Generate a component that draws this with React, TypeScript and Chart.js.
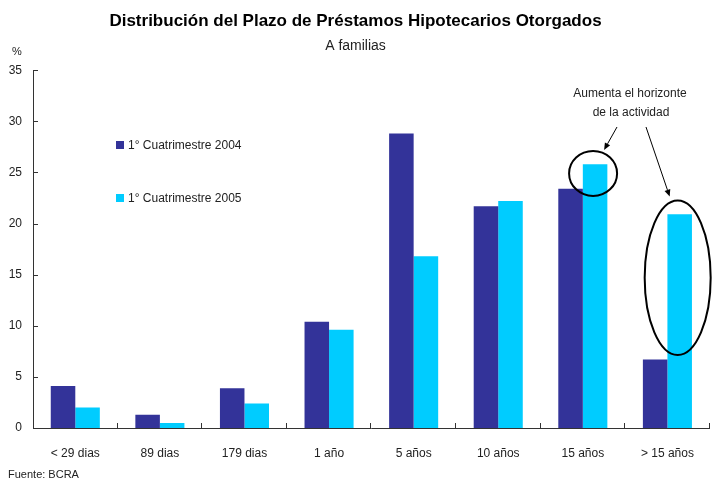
import React, { useEffect, useRef } from "react";
import { Chart, registerables } from "chart.js";

Chart.register(...registerables);

const categories = ["< 29 dias", "89 dias", "179 dias", "1 año", "5 años", "10 años", "15 años", "> 15 años"];
const series2004 = [4.1, 1.3, 3.9, 10.4, 28.8, 21.7, 23.4, 6.7];
const series2005 = [2.0, 0.5, 2.4, 9.6, 16.8, 22.2, 25.8, 20.9];
const seriesLabels = ["1° Cuatrimestre 2004", "1° Cuatrimestre 2005"];
const yTicks = [0, 5, 10, 15, 20, 25, 30, 35];
const titleText = "Distribución del Plazo de Préstamos Hipotecarios Otorgados";
const subtitleText = "A familias";
const unitText = "%";
const sourceText = "Fuente: BCRA";
const noteLines = ["Aumenta el horizonte", "de la actividad"];
// ellipse annotations: [category index, center value, half-height in value units]
const highlightIndex = [6, 7];
const highlightCenter = [24.9, 14.7];
const highlightHalf = [2.2, 7.55];

const FONT = "'Liberation Sans', Arial, sans-serif";
const COLORS = ["#333399", "#00CCFF"];
const AXIS = "#333333";
const TEXT = "#222222";

const overlay = {
  id: "overlay",
  afterDraw(chart: any) {
    const ctx = chart.ctx as CanvasRenderingContext2D;
    const y = chart.scales.y;
    const area = chart.chartArea;
    ctx.save();
    // inward tick marks
    ctx.strokeStyle = AXIS;
    ctx.lineWidth = 1;
    ctx.beginPath();
    yTicks.forEach((v) => {
      const py = Math.round(y.getPixelForValue(v)) + 0.5;
      ctx.moveTo(area.left, py);
      ctx.lineTo(area.left + 5, py);
    });
    const n = categories.length;
    for (let i = 1; i <= n; i++) {
      const px = Math.round(area.left + ((area.right - area.left) * i) / n) - 0.5;
      ctx.moveTo(px, area.bottom);
      ctx.lineTo(px, area.bottom - 5);
    }
    ctx.stroke();

    // unit
    ctx.fillStyle = TEXT;
    ctx.font = `11px ${FONT}`;
    ctx.textAlign = "center";
    ctx.textBaseline = "middle";
    ctx.fillText(unitText, 17, 52);

    // legend
    ctx.font = `12px ${FONT}`;
    ctx.textAlign = "left";
    const legendY = [145, 198];
    seriesLabels.forEach((lab, i) => {
      ctx.fillStyle = COLORS[i];
      ctx.fillRect(116, legendY[i] - 4, 8, 8);
      ctx.fillStyle = TEXT;
      ctx.fillText(lab, 128, legendY[i] + 0.5);
    });

    // note text
    ctx.textAlign = "center";
    ctx.fillStyle = TEXT;
    ctx.fillText(noteLines[0], 630, 94);
    ctx.fillText(noteLines[1], 631, 113);

    // ellipses
    const meta = chart.getDatasetMeta(1);
    const ell = highlightIndex.map((idx, k) => {
      const bar = meta.data[idx];
      const cx = bar.x - 2;
      const cy = y.getPixelForValue(highlightCenter[k]);
      const ry = y.getPixelForValue(highlightCenter[k] - highlightHalf[k]) - cy;
      const rx = k === 0 ? 24 : 33;
      return { cx, cy, rx, ry };
    });
    ctx.strokeStyle = "#000";
    ctx.lineWidth = 2;
    ell.forEach((e) => {
      ctx.beginPath();
      ctx.ellipse(e.cx, e.cy, e.rx, e.ry, 0, 0, Math.PI * 2);
      ctx.stroke();
    });

    // arrows
    const arrows = [
      [617, 127, ell[0].cx + 11, ell[0].cy - ell[0].ry - 1],
      [646, 127, ell[1].cx - 8, ell[1].cy - ell[1].ry - 4],
    ];
    ctx.lineWidth = 1;
    ctx.fillStyle = "#000";
    arrows.forEach(([x1, y1, x2, y2]) => {
      const ang = Math.atan2(y2 - y1, x2 - x1);
      const hl = 7;
      const hw = 3;
      ctx.beginPath();
      ctx.moveTo(x1, y1);
      ctx.lineTo(x2 - Math.cos(ang) * hl, y2 - Math.sin(ang) * hl);
      ctx.stroke();
      ctx.beginPath();
      ctx.moveTo(x2, y2);
      ctx.lineTo(x2 - Math.cos(ang) * hl - Math.sin(ang) * hw, y2 - Math.sin(ang) * hl + Math.cos(ang) * hw);
      ctx.lineTo(x2 - Math.cos(ang) * hl + Math.sin(ang) * hw, y2 - Math.sin(ang) * hl - Math.cos(ang) * hw);
      ctx.closePath();
      ctx.fill();
    });

    // source
    ctx.fillStyle = TEXT;
    ctx.font = `11px ${FONT}`;
    ctx.textAlign = "left";
    ctx.fillText(sourceText, 8, 475);
    ctx.restore();
  },
};

export default function App() {
  const ref = useRef<HTMLCanvasElement>(null);
  useEffect(() => {
    if (!ref.current) return;
    const chart = new Chart(ref.current, {
      type: "bar",
      data: {
        labels: categories,
        datasets: [
          { label: seriesLabels[0], data: series2004, backgroundColor: COLORS[0], borderWidth: 0 },
          { label: seriesLabels[1], data: series2005, backgroundColor: COLORS[1], borderWidth: 0 },
        ],
      },
      options: {
        responsive: false,
        animation: false,
        devicePixelRatio: 1,
        layout: { padding: { left: 0, right: 1, top: 0, bottom: 0 } },
        datasets: { bar: { categoryPercentage: 0.58, barPercentage: 1.0 } },
        plugins: {
          legend: { display: false },
          tooltip: { enabled: false },
          title: {
            display: true,
            text: titleText,
            color: "#000",
            font: { family: FONT, size: 17, weight: "bold" },
            padding: { top: 11, bottom: 6 },
          },
          subtitle: {
            display: true,
            text: subtitleText,
            color: TEXT,
            font: { family: FONT, size: 14 },
            padding: { top: 0, bottom: 16 },
          },
        },
        scales: {
          x: {
            type: "category",
            grid: { display: false, drawTicks: false },
            border: { display: true, color: AXIS, width: 1 },
            ticks: { color: TEXT, font: { family: FONT, size: 12 }, padding: 18, maxRotation: 0 },
            afterFit: (s: any) => {
              s.height = 52;
            },
          },
          y: {
            min: 0,
            max: 35,
            grid: { display: false, drawTicks: false },
            border: { display: true, color: AXIS, width: 1 },
            ticks: {
              stepSize: 5,
              color: TEXT,
              font: { family: FONT, size: 12 },
              padding: 11,
            },
            afterBuildTicks: (s: any) => {
              s.ticks = yTicks.map((v) => ({ value: v }));
            },
            afterFit: (s: any) => {
              s.width = 33;
            },
          },
        },
      },
      plugins: [overlay],
    });
    return () => chart.destroy();
  }, []);
  return (
    <div style={{ position: "absolute", left: 0, top: 0, width: 712, height: 480, background: "#fff" }}>
      <canvas ref={ref} width={712} height={480} />
    </div>
  );
}
